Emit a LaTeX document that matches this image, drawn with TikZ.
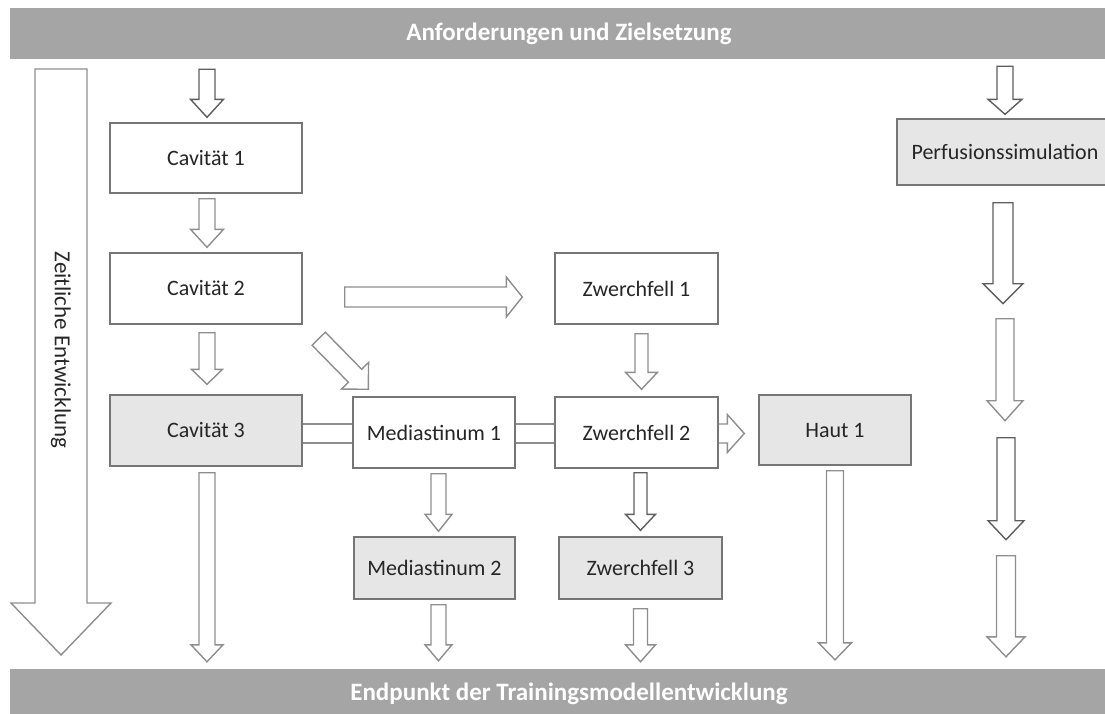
\documentclass[tikz,border=0pt]{standalone}
\usepackage{fontspec}
\setmainfont{Carlito}
\usepackage{tikz}
\usetikzlibrary{calc, positioning, backgrounds}

\definecolor{barGrey}{HTML}{A5A5A5}
\definecolor{boxGrey}{HTML}{E6E6E6}
\definecolor{lineGrey}{HTML}{767676}
\definecolor{arrLight}{HTML}{8E8E8E}
\definecolor{arrDark}{HTML}{5E5E5E}
\definecolor{textGrey}{HTML}{262626}

% Blockpfeil: [Stil]{von}{nach}{Schaft}{Spitze}{Spitzenlaenge}
\newcommand{\blockarrow}[6][]{%
  \coordinate (ba-a) at (#2);
  \coordinate (ba-b) at (#3);
  \coordinate (ba-c) at ($(ba-b)!#6pt!(ba-a)$);
  \draw[blk, #1] ($(ba-a)!#4pt!90:(ba-b)$) -- ($(ba-c)!#4pt!90:(ba-b)$)
    -- ($(ba-c)!#5pt!90:(ba-b)$) -- (ba-b) -- ($(ba-c)!#5pt!-90:(ba-b)$)
    -- ($(ba-c)!#4pt!-90:(ba-b)$) -- ($(ba-a)!#4pt!-90:(ba-b)$) -- cycle;}

\begin{document}
\begin{tikzpicture}[x=1pt, y=-1pt,
        bar/.style={rectangle, fill=barGrey, text=white, inner sep=0pt, minimum width=1118pt, font=\fontsize{25}{30}\selectfont\bfseries},
        box/.style={rectangle, draw=lineGrey, fill=white, line width=1.4pt, inner sep=0pt, minimum width=192pt, minimum height=70pt, text=textGrey, font=\fontsize{22}{26}\selectfont},
        shaded/.style={box, fill=boxGrey},
        blk/.style={draw=arrLight, fill=white, line width=1.4pt, line join=miter},
        dark/.style={draw=arrDark},
        band/.style={draw=arrLight, line width=1.4pt, double=white, double distance=17.6pt}
    ]
        \useasboundingbox (0,0) rectangle (1105,713);
        \clip (0,0) rectangle (1105,713);

        % Balken
        \node[bar, minimum height=51pt] (req) at (569,33.5) {Anforderungen und Zielsetzung};
        \node[bar, minimum height=50pt] (endp) at (569,694) {Endpunkt der Trainingsmodellentwicklung};

        % Zeitachse
        \blockarrow{61,69}{61,655}{26}{50}{52}
        \node[rotate=-90, text=textGrey, font=\fontsize{23}{27}\selectfont] (zeit) at (61,350) {Zeitliche Entwicklung};

        % Kaesten
        \node[box] (cav1) at (206,158) {Cavität 1};
        \node[box, minimum height=71pt] (cav2) at (206,288.5) {Cavität 2};
        \node[shaded, minimum height=71pt] (cav3) at (206,430.5) {Cavität 3};
        \node[box, minimum width=162pt, minimum height=71pt] (med1) at (434,432.5) {Mediastinum 1};
        \node[shaded, minimum width=161pt, minimum height=62pt] (med2) at (434.5,568) {Mediastinum 2};
        \node[box, minimum width=163pt, minimum height=71pt] (zw1) at (636.5,288.5) {Zwerchfell 1};
        \node[box, minimum width=163pt, minimum height=71pt] (zw2) at (636.5,432.5) {Zwerchfell 2};
        \node[shaded, minimum width=163pt, minimum height=62pt] (zw3) at (640.5,568) {Zwerchfell 3};
        \node[shaded, minimum width=152pt] (haut) at (835,430) {Haut 1};
        \node[shaded, minimum width=216pt, minimum height=66pt] (perf) at (1005,152) {Perfusionssimulation};

        % Verbindungen
        \begin{scope}[on background layer]
            \draw[band] ($(cav3.east)+(0,3)$) -- ($(med1.west)+(0,1)$);
            \draw[band] ($(med1.east)+(0,1)$) -- ($(zw2.west)+(0,1)$);
            \blockarrow{$(zw2.east)+(-1,1)$}{$(haut.west)+(-14,3.5)$}{9.5}{19}{17}
        \end{scope}

        \blockarrow[dark]{$(cav1.north |- req.south)+(1,10)$}{$(cav1.north)+(1,-5)$}{8}{16.5}{18}
        \blockarrow{$(cav1.south)+(1,5)$}{$(cav2.north)+(1,-5)$}{8}{16.5}{18}
        \blockarrow{$(cav2.south)+(1,8)$}{$(cav3.north)+(1,-10)$}{8}{15.5}{15}
        \blockarrow{$(cav3.south)+(1,6)$}{$(cav3.south |- endp.north)+(1,-7)$}{8}{16}{17}
        \blockarrow{$(cav2.east)+(42,8.5)$}{$(zw1.west)+(-32,8.5)$}{10}{20}{16}
        \blockarrow{$(cav2.south east)+(16,14)$}{$(med1.north west)+(16,-7)$}{9.3}{19}{19}
        \blockarrow{$(zw1.south)+(5,9)$}{$(zw2.north)+(5,-7)$}{6.5}{16}{17}
        \blockarrow{$(med1.south)+(4.5,5)$}{$(med2.north)+(4,-5)$}{7.5}{13.5}{17}
        \blockarrow{$(med2.south)+(4,5)$}{$(med2.south |- endp.north)+(4,-8)$}{7.5}{13.5}{16}
        \blockarrow[dark]{$(zw2.south)+(4,4)$}{$(zw3.north)+(0,-6)$}{6.5}{15}{16}
        \blockarrow{$(zw3.south)+(0,9)$}{$(zw3.south |- endp.north)+(0,-7)$}{7}{15}{17}
        \blockarrow{$(haut.south)+(0,5)$}{$(haut.south |- endp.north)+(0,-9)$}{8.5}{16.5}{17}

        % Perfusion
        \coordinate (p1) at ($(perf.south)+(-2,17)$);
        \coordinate (p2) at ($(perf.south)+(-2,118)$);
        \coordinate (p3) at ($(perf.south)+(0,133)$);
        \coordinate (p4) at ($(perf.south)+(0,235)$);
        \coordinate (p5) at ($(perf.south)+(1,252)$);
        \coordinate (p6) at ($(perf.south)+(1,354)$);
        \coordinate (p7) at ($(perf.south)+(1,370)$);
        \blockarrow[dark]{$(perf.north |- req.south)+(0,7)$}{$(perf.north)+(0,-4)$}{8}{17}{15}
        \blockarrow[dark]{p1}{p2}{10}{20}{20}
        \blockarrow{p3}{p4}{9}{18}{20}
        \blockarrow[dark]{p5}{p6}{9}{18}{19}
        \blockarrow{p7}{$(p7 |- endp.north)+(0,-12)$}{9.5}{19}{20}
    \end{tikzpicture}
\end{document}
